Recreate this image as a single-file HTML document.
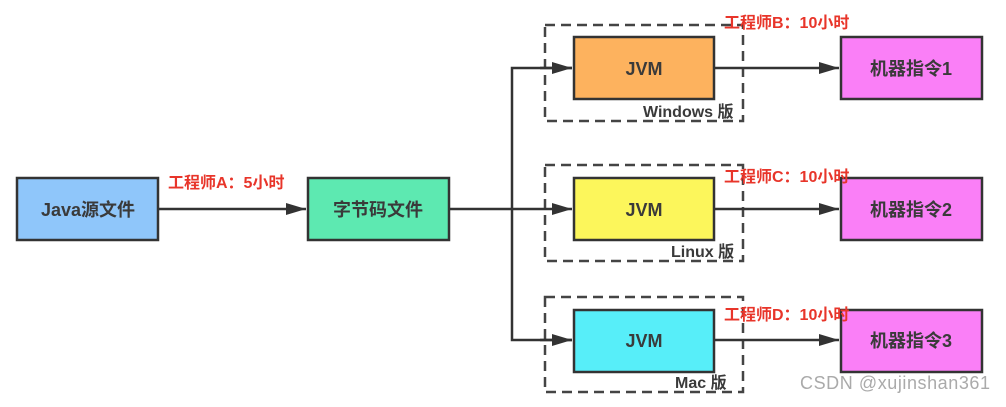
<!DOCTYPE html>
<html><head><meta charset="utf-8"><style>
html,body{margin:0;padding:0;background:#fff;}
svg text{font-family:"Liberation Sans","Noto Sans CJK SC",sans-serif;font-weight:bold;}
</style></head><body>
<svg width="1006" height="402" viewBox="0 0 1006 402" xmlns="http://www.w3.org/2000/svg">
<defs>
<marker id="b" viewBox="0 0 20 12" markerWidth="20" markerHeight="12" refX="20" refY="6" orient="auto" markerUnits="userSpaceOnUse"><path d="M0,0 L20,6 L0,12Z" fill="#333"/></marker></defs>
<g fill="none" stroke="#444" stroke-width="2.5" stroke-dasharray="10,6">
<rect x="545" y="25" width="198" height="96"/>
<rect x="545" y="165" width="198" height="96"/>
<rect x="545" y="297" width="198" height="95"/>
</g>
<g stroke="#333" stroke-width="2.5" fill="none">
<line x1="158" y1="209" x2="306" y2="209" marker-end="url(#b)"/>
<line x1="449" y1="209" x2="572" y2="209" marker-end="url(#b)"/>
<polyline points="572,68 512,68 512,340 572,340"/>
<line x1="540" y1="68" x2="572" y2="68" marker-end="url(#b)"/>
<line x1="540" y1="340" x2="572" y2="340" marker-end="url(#b)"/>
<line x1="714" y1="68" x2="839" y2="68" marker-end="url(#b)"/>
<line x1="714" y1="209" x2="839" y2="209" marker-end="url(#b)"/>
<line x1="714" y1="340" x2="839" y2="340" marker-end="url(#b)"/>
</g>
<g stroke="#333" stroke-width="2.5">
<rect x="17" y="178" width="141" height="62" fill="#8fc6fa"/>
<rect x="308" y="178" width="141" height="62" fill="#5de9b1"/>
<rect x="574" y="37" width="140" height="62" fill="#fdb25e"/>
<rect x="574" y="178" width="140" height="62" fill="#fcf65b"/>
<rect x="574" y="310" width="140" height="62" fill="#57eef9"/>
<rect x="841" y="37" width="141" height="62" fill="#fa7ff7"/>
<rect x="841" y="178" width="141" height="62" fill="#fa7ff7"/>
<rect x="841" y="310" width="141" height="62" fill="#fa7ff7"/>
</g>
<g font-size="18" fill="#3a3a3a" text-anchor="middle">
<text x="88" y="216">Java源文件</text>
<text x="378" y="216">字节码文件</text>
<text x="644" y="75">JVM</text>
<text x="644" y="216">JVM</text>
<text x="644" y="347">JVM</text>
<text x="911" y="75">机器指令1</text>
<text x="911" y="216">机器指令2</text>
<text x="911" y="347">机器指令3</text>
</g>
<g font-size="16" fill="#3a3a3a">
<text x="643" y="117">Windows 版</text>
<text x="671" y="257">Linux 版</text>
<text x="675" y="388">Mac 版</text>
</g>
<g font-size="16" fill="#e8352a">
<text x="168" y="188">工程师A：5小时</text>
<text x="724" y="28">工程师B：10小时</text>
<text x="724" y="182">工程师C：10小时</text>
<text x="724" y="320">工程师D：10小时</text>
</g>
<text x="800" y="389" font-size="18" fill="#aaa" style="font-weight:normal" textLength="190">CSDN @xujinshan361</text>
</svg>
</body></html>
